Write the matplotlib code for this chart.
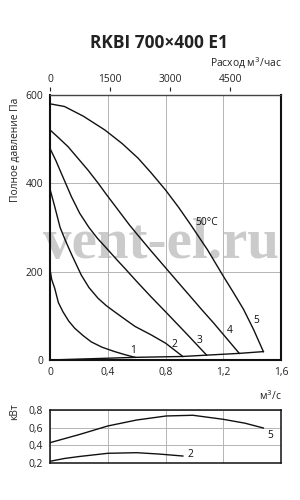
import matplotlib
matplotlib.use('Agg')
import matplotlib.pyplot as plt

plt.rcParams['font.family'] = ['Open Sans', 'DejaVu Sans']

# ---------------- data ----------------
title = 'RKBI 700×400 E1'
top_label = 'Расход м$^3$/час'
ylabel_main = 'Полное давление Па'
ylabel_power = 'кВт'
unit_label = 'м$^3$/с'
temp_label = '50°C'
watermark = 'vent-el.ru'

q_ticks = [0, 0.4, 0.8, 1.2, 1.6]
q_tick_labels = ['0', '0,4', '0,8', '1,2', '1,6']
m3h_ticks = [0, 1500, 3000, 4500]
m3h_tick_labels = ['0', '1500', '3000', '4500']
p_ticks = [0, 200, 400, 600]
p_tick_labels = ['0', '200', '400', '600']
kw_ticks = [0.2, 0.4, 0.6, 0.8]
kw_tick_labels = ['0,2', '0,4', '0,6', '0,8']

# pressure curves (flow m3/s, total pressure Pa)
q1 = [0, 0.012, 0.033, 0.058, 0.09, 0.13, 0.171, 0.23, 0.286, 0.36, 0.448, 0.52, 0.589]
p1 = [205, 182, 162, 130, 109, 88, 72, 55, 41, 29, 19, 12, 6]
q2 = [0, 0.033, 0.07, 0.11, 0.148, 0.217, 0.27, 0.332, 0.39, 0.448, 0.52, 0.589, 0.7, 0.801, 0.92]
p2 = [387, 347, 300, 268, 240, 192, 164, 140, 123, 109, 92, 76, 57, 38, 8]
q3 = [0, 0.04, 0.078, 0.148, 0.206, 0.27, 0.33, 0.4, 0.46, 0.517, 0.6, 0.7, 0.801, 0.95, 1.085]
p3 = [479, 452, 423, 370, 332, 300, 275, 250, 228, 208, 178, 143, 109, 58, 11]
q4 = [0, 0.06, 0.125, 0.19, 0.263, 0.332, 0.39, 0.448, 0.552, 0.6, 0.7, 0.8, 0.9, 0.993, 1.051, 1.13, 1.2, 1.311]
p4 = [521, 503, 483, 458, 430, 401, 375, 350, 305, 286, 247, 209, 171, 136, 114, 85, 58, 15]
q5 = [0, 0.1, 0.231, 0.379, 0.5, 0.61, 0.7, 0.8, 0.89, 0.975, 1.09, 1.2, 1.27, 1.34, 1.41, 1.478]
p5 = [580, 574, 552, 521, 490, 457, 424, 385, 346, 306, 250, 190, 153, 115, 69, 19]
# end-points line
q_end = [0, 0.589, 0.92, 1.085, 1.311, 1.478]
p_end = [0, 6, 8, 11, 15, 19]

# label anchor points
curve_labels = ['1', '2', '3', '4', '5']
lab_q = [0.577, 0.859, 1.039, 1.247, 1.427]
lab_p = [22, 34, 45, 66, 89]
temp_q, temp_p = 1.004, 311

# power curves (flow m3/s, kW)
qw5 = [0, 0.208, 0.4, 0.6, 0.805, 0.99, 1.2, 1.35, 1.478]
w5 = [0.428, 0.523, 0.618, 0.686, 0.732, 0.74, 0.694, 0.65, 0.595]
qw2 = [0, 0.1, 0.2, 0.4, 0.6, 0.76, 0.92]
w2 = [0.216, 0.248, 0.27, 0.307, 0.314, 0.298, 0.276]
power_labels = ['5', '2']
power_lab_q = [1.525, 0.975]
power_lab_w = [0.515, 0.288]

# ---------------- figure ----------------
fig = plt.figure(figsize=(3, 5), dpi=100)
ax = fig.add_axes([50 / 300, 1 - 360 / 500, 231 / 300, 265 / 500])
axp = fig.add_axes([50 / 300, 1 - 462.7 / 500, 231 / 300, 52.7 / 500])

fs = 7.4
grid_col = '#b4b4b4'
ink = '#111111'

# main axes
ax.set_xlim(0, 1.6)
ax.set_ylim(0, 600)
ax.set_xticks(q_ticks)
ax.set_xticklabels(q_tick_labels)
ax.set_yticks(p_ticks)
ax.set_yticklabels(p_tick_labels)
ax.tick_params(axis='both', length=0, pad=5, colors='#222222', labelsize=fs)
ax.grid(True, color=grid_col, lw=0.7, zorder=0)
for s in ['left', 'right', 'bottom']:
    ax.spines[s].set_linewidth(1.5)
    ax.spines[s].set_color(ink)
ax.spines['top'].set_linewidth(1.0)
ax.spines['top'].set_color('#444444')

for q, p in [(q1, p1), (q2, p2), (q3, p3), (q4, p4), (q5, p5)]:
    ax.plot(q, p, color=ink, lw=1.0, zorder=3, solid_joinstyle='round')
ax.plot(q_end, p_end, color=ink, lw=1.0, zorder=3)

for t, x, y in zip(curve_labels, lab_q, lab_p):
    ax.text(x, y, t, fontsize=fs, ha='center', va='center', color=ink, zorder=4)
ax.text(temp_q, temp_p, temp_label, fontsize=fs, ha='left', va='center', color=ink, zorder=4)

ax.text(161 / 300, 1 - 258 / 500, watermark, transform=fig.transFigure,
        fontsize=41, fontweight='bold', family=['Liberation Serif', 'DejaVu Serif'],
        color='#cbcbcb', ha='center', va='baseline', zorder=1.5, clip_on=False)

# top axis m3/h
ax2 = ax.twiny()
ax2.set_xlim(0, 1.6 * 3600)
ax2.set_xticks(m3h_ticks)
ax2.set_xticklabels(m3h_tick_labels)
ax2.spines['top'].set_position(('outward', 3))
for s in ax2.spines.values():
    s.set_visible(False)
ax2.tick_params(axis='x', direction='out', length=3, width=0.8, pad=1.5,
                colors='#222222', labelsize=fs)

# power axes
axp.set_xlim(0, 1.6)
axp.set_ylim(0.2, 0.8)
axp.set_xticks(q_ticks)
axp.set_xticklabels([])
axp.set_yticks(kw_ticks)
axp.set_yticklabels(kw_tick_labels)
axp.tick_params(axis='both', length=0, pad=5, colors='#222222', labelsize=fs)
axp.grid(True, color=grid_col, lw=0.7, zorder=0)
for s in axp.spines.values():
    s.set_linewidth(1.1)
    s.set_color(ink)
axp.plot(qw5, w5, color=ink, lw=1.0, zorder=3)
axp.plot(qw2, w2, color=ink, lw=1.0, zorder=3)
for t, x, y in zip(power_labels, power_lab_q, power_lab_w):
    axp.text(x, y, t, fontsize=fs, ha='center', va='center', color=ink)

# texts
fig.text(159 / 300, 1 - 43 / 500, title, fontsize=12.5, fontweight='bold',
         ha='center', va='center', color='#222222')
fig.text(282 / 300, 1 - 63 / 500, top_label, fontsize=fs, ha='right', va='center', color='#222222')
fig.text(15 / 300, 1 - 150 / 500, ylabel_main, fontsize=fs, rotation=90,
         ha='center', va='center', color='#222222')
fig.text(15 / 300, 1 - 412 / 500, ylabel_power, fontsize=fs, rotation=90,
         ha='center', va='center', color='#222222')
fig.text(282 / 300, 1 - 396 / 500, unit_label, fontsize=fs, ha='right', va='center', color='#222222')

fig.savefig('out.png', dpi=100)
